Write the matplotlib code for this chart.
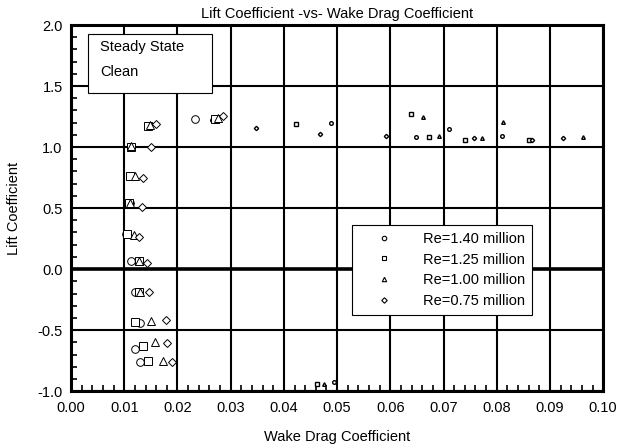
import matplotlib
matplotlib.use("Agg")
import matplotlib.pyplot as plt
import numpy as np
from matplotlib.ticker import MultipleLocator
from matplotlib.patches import Rectangle

plt.rcParams['font.family'] = ['Liberation Sans', 'DejaVu Sans']

# Re = 1.40 million (circles)
cd_140 = [0.0232, 0.0112, 0.0112, 0.0110, 0.0104, 0.0113, 0.0120, 0.0130, 0.0120, 0.0130,
          0.0265, 0.0489, 0.0648, 0.0711, 0.0810, 0.0495]
cl_140 = [1.23, 1.00, 0.765, 0.54, 0.29, 0.068, -0.19, -0.44, -0.656, -0.765,
          1.22, 1.197, 1.084, 1.148, 1.09, -0.925]
# Re = 1.25 million (squares)
cd_125 = [0.0144, 0.0112, 0.0110, 0.0109, 0.0106, 0.0128, 0.0128, 0.0121, 0.0136, 0.0145,
          0.0271, 0.0422, 0.0639, 0.0673, 0.0741, 0.0861, 0.0462]
cl_125 = [1.175, 1.00, 0.765, 0.54, 0.29, 0.065, -0.19, -0.43, -0.63, -0.757,
          1.227, 1.189, 1.268, 1.084, 1.057, 1.057, -0.94]
# Re = 1.00 million (triangles)
cd_100 = [0.0148, 0.0112, 0.0120, 0.0111, 0.0118, 0.0128, 0.0130, 0.0150, 0.0157, 0.0173,
          0.0277, 0.0661, 0.0692, 0.0772, 0.0811, 0.0963, 0.0476]
cl_100 = [1.18, 1.005, 0.765, 0.54, 0.28, 0.068, -0.19, -0.424, -0.60, -0.752,
          1.235, 1.243, 1.093, 1.071, 1.202, 1.084, -0.94]
# Re = 0.75 million (diamonds)
cd_075 = [0.0159, 0.0150, 0.0136, 0.0133, 0.0128, 0.0143, 0.0146, 0.0179, 0.0180, 0.0189,
          0.0285, 0.0347, 0.0467, 0.0592, 0.0757, 0.0867, 0.0925]
cl_075 = [1.19, 1.00, 0.75, 0.51, 0.265, 0.047, -0.19, -0.418, -0.609, -0.76,
          1.257, 1.158, 1.107, 1.09, 1.076, 1.057, 1.076]

labels = ["Re=1.40 million", "Re=1.25 million", "Re=1.00 million", "Re=0.75 million"]
series = [(cd_140, cl_140, 'o'), (cd_125, cl_125, 's'), (cd_100, cl_100, '^'), (cd_075, cl_075, 'D')]

fig = plt.figure(figsize=(6.18, 4.47), dpi=100)
ax = fig.add_axes([0.115, 0.125, 0.861, 0.819])

for (cd, cl, m), lab in zip(series, labels):
    cd = np.array(cd); cl = np.array(cl)
    big = cd < 0.03
    ms_big = 5.5 if m != 'D' else 4.5
    ms_small = 2.6 if m != 'D' else 2.2
    if m == 'o':
        big = big & ~((cd > 0.026) & (cd < 0.027))
    ax.plot(cd[big], cl[big], linestyle='none', marker=m, mfc='white', mec='black',
            mew=0.7, ms=ms_big, zorder=3)
    ax.plot(cd[~big], cl[~big], linestyle='none', marker=m, mfc='white', mec='black',
            mew=1.0, ms=ms_small, zorder=3)
    ax.plot([], [], linestyle='none', marker=m, mfc='white', mec='black', mew=0.8,
            ms=3.2 if m != 'D' else 2.8, label=lab)

ax.set_xlim(0.0, 0.10)
ax.set_ylim(-1.0, 2.0)
ax.xaxis.set_major_locator(MultipleLocator(0.01))
ax.xaxis.set_minor_locator(MultipleLocator(0.002))
ax.yaxis.set_major_locator(MultipleLocator(0.5))
ax.yaxis.set_minor_locator(MultipleLocator(0.1))
ax.xaxis.set_major_formatter(matplotlib.ticker.FormatStrFormatter('%.2f'))
ax.yaxis.set_major_formatter(matplotlib.ticker.FormatStrFormatter('%.1f'))
ax.tick_params(which='both', direction='in', top=False, right=False, labelsize=10.5,
               width=1.2, color='black')
ax.tick_params(which='major', length=0)
ax.tick_params(axis='x', which='major', pad=7)
ax.tick_params(axis='y', which='major', pad=6)
ax.tick_params(which='minor', length=4)
ax.grid(True, which='major', color='black', linewidth=1.5, zorder=1)
ax.axhline(0.0, color='black', linewidth=2.6, zorder=2)
for s in ax.spines.values():
    s.set_linewidth(2.2)

ax.set_title("Lift Coefficient -vs- Wake Drag Coefficient", fontsize=10.5, pad=5)
ax.set_xlabel("Wake Drag Coefficient", fontsize=10.5, labelpad=11)
ax.set_ylabel("Lift Coefficient", fontsize=10.5, labelpad=12)

# annotation box
ax.add_patch(Rectangle((0.032, 0.814), 0.233, 0.161, transform=ax.transAxes,
                       fc='white', ec='black', lw=0.8, zorder=5))
ax.text(0.055, 0.940, "Steady State", transform=ax.transAxes, fontsize=10.5,
        va='center', ha='left', zorder=6)
ax.text(0.055, 0.872, "Clean", transform=ax.transAxes, fontsize=10.5,
        va='center', ha='left', zorder=6)

leg = ax.legend(loc='lower right', bbox_to_anchor=(0.867, 0.208), fontsize=10.5,
                frameon=True, fancybox=False, edgecolor='black', framealpha=1,
                handlelength=3.4, handletextpad=1.0, labelspacing=0.45, borderpad=0.5,
                borderaxespad=0.0, markerscale=1.0)
leg.get_frame().set_linewidth(0.8)
leg.set_zorder(6)

fig.savefig("out.png", dpi=100)
